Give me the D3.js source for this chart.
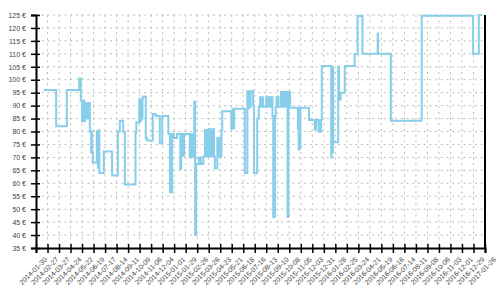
<!DOCTYPE html>
<html>
<head>
<meta charset="utf-8">
<script src="https://cdn.jsdelivr.net/npm/d3@7/dist/d3.min.js"></script>
<style>
  body { margin: 0; background: #fff; }
  svg { display: block; font-family: 'DejaVu Sans', sans-serif; }
  .tick text { fill: #444; font-size: 7px; }
  .grid line { stroke: #bbb; stroke-dasharray: 2,3.7; }
</style>
</head>
<body>
<svg id="chart" width="500" height="300"></svg>
<script>
// price history (step line)
const priceDates = [
  '2014-02-18', '2014-03-20', '2014-04-15', '2014-05-15', '2014-05-19', '2014-05-22', '2014-05-24', '2014-05-27',
  '2014-05-29', '2014-06-01', '2014-06-05', '2014-06-10', '2014-06-13', '2014-06-14', '2014-06-15', '2014-06-17',
  '2014-06-27', '2014-06-30', '2014-07-01', '2014-07-03', '2014-07-14', '2014-08-03', '2014-08-17', '2014-08-22',
  '2014-08-30', '2014-09-03', '2014-09-29', '2014-10-01', '2014-10-08', '2014-10-10', '2014-10-12', '2014-10-14',
  '2014-10-16', '2014-10-18', '2014-10-24', '2014-10-27', '2014-11-10', '2014-11-17', '2014-11-27', '2014-12-03',
  '2014-12-18', '2014-12-22', '2014-12-27', '2014-12-31', '2015-01-08', '2015-01-16', '2015-01-18', '2015-01-22',
  '2015-01-25', '2015-02-08', '2015-02-11', '2015-02-13', '2015-02-16', '2015-02-17', '2015-02-19', '2015-02-21',
  '2015-02-23', '2015-03-02', '2015-03-07', '2015-03-13', '2015-03-17', '2015-03-22', '2015-03-26', '2015-03-29',
  '2015-03-31', '2015-04-03', '2015-04-05', '2015-04-08', '2015-04-10', '2015-04-16', '2015-04-18', '2015-04-21',
  '2015-04-23', '2015-04-26', '2015-04-28', '2015-05-20', '2015-05-23', '2015-05-25', '2015-05-27', '2015-06-22',
  '2015-06-28', '2015-06-30', '2015-07-02', '2015-07-04', '2015-07-06', '2015-07-12', '2015-07-14', '2015-07-22',
  '2015-07-26', '2015-07-29', '2015-07-31', '2015-08-02', '2015-08-05', '2015-08-13', '2015-08-18', '2015-08-21',
  '2015-08-23', '2015-08-25', '2015-08-28', '2015-08-30', '2015-09-03', '2015-09-05', '2015-09-07', '2015-09-12',
  '2015-09-18', '2015-09-22', '2015-09-26', '2015-09-28', '2015-10-02', '2015-10-04', '2015-10-06', '2015-10-10',
  '2015-10-29', '2015-10-31', '2015-11-01', '2015-11-02', '2015-11-04', '2015-11-25', '2015-12-09', '2015-12-13',
  '2015-12-19', '2015-12-24', '2015-12-26', '2016-01-18', '2016-01-19', '2016-01-21', '2016-01-22', '2016-01-23',
  '2016-02-04', '2016-02-06', '2016-02-10', '2016-02-20', '2016-03-15', '2016-03-22', '2016-04-03', '2016-05-10',
  '2016-05-11', '2016-06-11', '2016-08-25', '2016-12-28', '2017-01-11', '2017-01-19'
];
const priceValues = [
  96, 82, 96, 100.5, 92, 84, 92, 84,
  91, 85, 91, 80, 72, 80, 72, 68,
  80, 66, 80.5, 64, 72.3, 63, 80, 84.2,
  80, 59.5, 79.5, 83.5, 92.5, 84, 92.5, 85,
  93, 93.5, 77.5, 76.5, 86.8, 86, 75.5, 86,
  79, 56.5, 79, 77.5, 79, 65.5, 79, 70.6,
  79, 70, 79, 70.5, 79, 70, 91.5, 40,
  67.4, 70, 67.4, 70.3, 80.6, 70.3, 81, 70.3,
  80.5, 70.5, 81, 70.3, 65.8, 77.5, 70.3, 77.5,
  70.3, 80.6, 87.8, 81.2, 88.5, 81.2, 88.8, 64,
  95.5, 89, 95.5, 89.5, 95.5, 90, 64, 85,
  89.6, 93.2, 89.6, 93.2, 89.6, 93.2, 89.6, 93.2,
  89.6, 93.3, 86, 47, 86, 89.6, 93.2, 89.6,
  95.3, 89.6, 95.3, 89.6, 95.3, 47, 95.3, 89.2,
  81, 73, 89.2, 73.5, 89.2, 84.4, 80.8, 84.4,
  79.9, 84.4, 105.3, 70, 105, 72, 104, 75.8,
  105, 92.4, 95, 105.3, 109.9, 124.6, 110, 117.9,
  110, 84.2, 124.7, 110, 125, 125
];

// axis ticks
const tickDates = [
  '2014-01-30', '2014-02-27', '2014-03-27', '2014-04-24', '2014-05-22', '2014-06-19', '2014-07-17', '2014-08-14',
  '2014-09-11', '2014-10-09', '2014-11-06', '2014-12-04', '2015-01-01', '2015-01-29', '2015-02-26', '2015-03-26',
  '2015-04-23', '2015-05-21', '2015-06-18', '2015-07-16', '2015-08-13', '2015-09-10', '2015-10-08', '2015-11-05',
  '2015-12-03', '2015-12-31', '2016-01-28', '2016-02-25', '2016-03-24', '2016-04-21', '2016-05-19', '2016-06-16',
  '2016-07-14', '2016-08-11', '2016-09-08', '2016-10-06', '2016-11-03', '2016-12-01', '2016-12-29', '2017-01-26'
];
const priceTicks = d3.range(35, 126, 5);

const margin = { top: 15, right: 15, bottom: 52, left: 36 };
const width = 500 - margin.left - margin.right;
const height = 300 - margin.top - margin.bottom;

const parse = d3.utcParse('%Y-%m-%d');
const data = priceDates.map((d, i) => ({ date: parse(d), price: priceValues[i] }));
const ticks = tickDates.map(parse);

const svg = d3.select('#chart');
const g = svg.append('g')
  .attr('transform', `translate(${margin.left},${margin.top})`);

const x = d3.scaleUtc()
  .domain([ticks[0], ticks[ticks.length - 1]])
  .range([0, width]);
const y = d3.scaleLinear()
  .domain([35, 125])
  .range([height, 0]);

// grid
g.append('g')
  .attr('class', 'grid')
  .selectAll('line.h')
  .data(priceTicks.slice(1))
  .enter()
    .append('line')
    .attr('x1', 0)
    .attr('x2', width)
    .attr('y1', d => y(d))
    .attr('y2', d => y(d));

g.append('g')
  .attr('class', 'grid')
  .selectAll('line.v')
  .data(ticks.slice(1, -1))
  .enter()
    .append('line')
    .attr('x1', d => x(d))
    .attr('x2', d => x(d))
    .attr('y1', 0)
    .attr('y2', height);

// price line
const line = d3.line()
  .curve(d3.curveStepAfter)
  .x(d => x(d.date))
  .y(d => y(d.price));

g.append('path')
  .datum(data)
  .attr('fill', 'none')
  .attr('stroke', '#87ceeb')
  .attr('stroke-width', 2)
  .attr('d', line);

// axes
const yAxis = g.append('g')
  .call(d3.axisLeft(y).tickValues(priceTicks).tickSize(5).tickPadding(5).tickFormat(d => `${d} €`));
yAxis.selectAll('.tick line').attr('x1', 4).attr('x2', -5).attr('stroke-width', 1.5);
yAxis.select('.domain').attr('stroke-width', 2);

const xAxis = g.append('g')
  .attr('transform', `translate(0,${height})`)
  .call(d3.axisBottom(x).tickValues(ticks).tickSize(5).tickFormat(d3.utcFormat('%Y-%m-%d')));
xAxis.selectAll('.tick line').attr('y1', -4).attr('y2', 5).attr('stroke-width', 1.5);
xAxis.select('.domain').attr('stroke-width', 2);
xAxis.selectAll('.tick text')
  .attr('text-anchor', 'end')
  .attr('dy', null)
  .attr('y', 0)
  .attr('transform', 'translate(11,12) rotate(-45)');

// right border
g.append('line')
  .attr('x1', width)
  .attr('x2', width)
  .attr('y1', 0)
  .attr('y2', height)
  .attr('stroke', '#000')
  .attr('stroke-width', 2);
</script>
</body>
</html>
